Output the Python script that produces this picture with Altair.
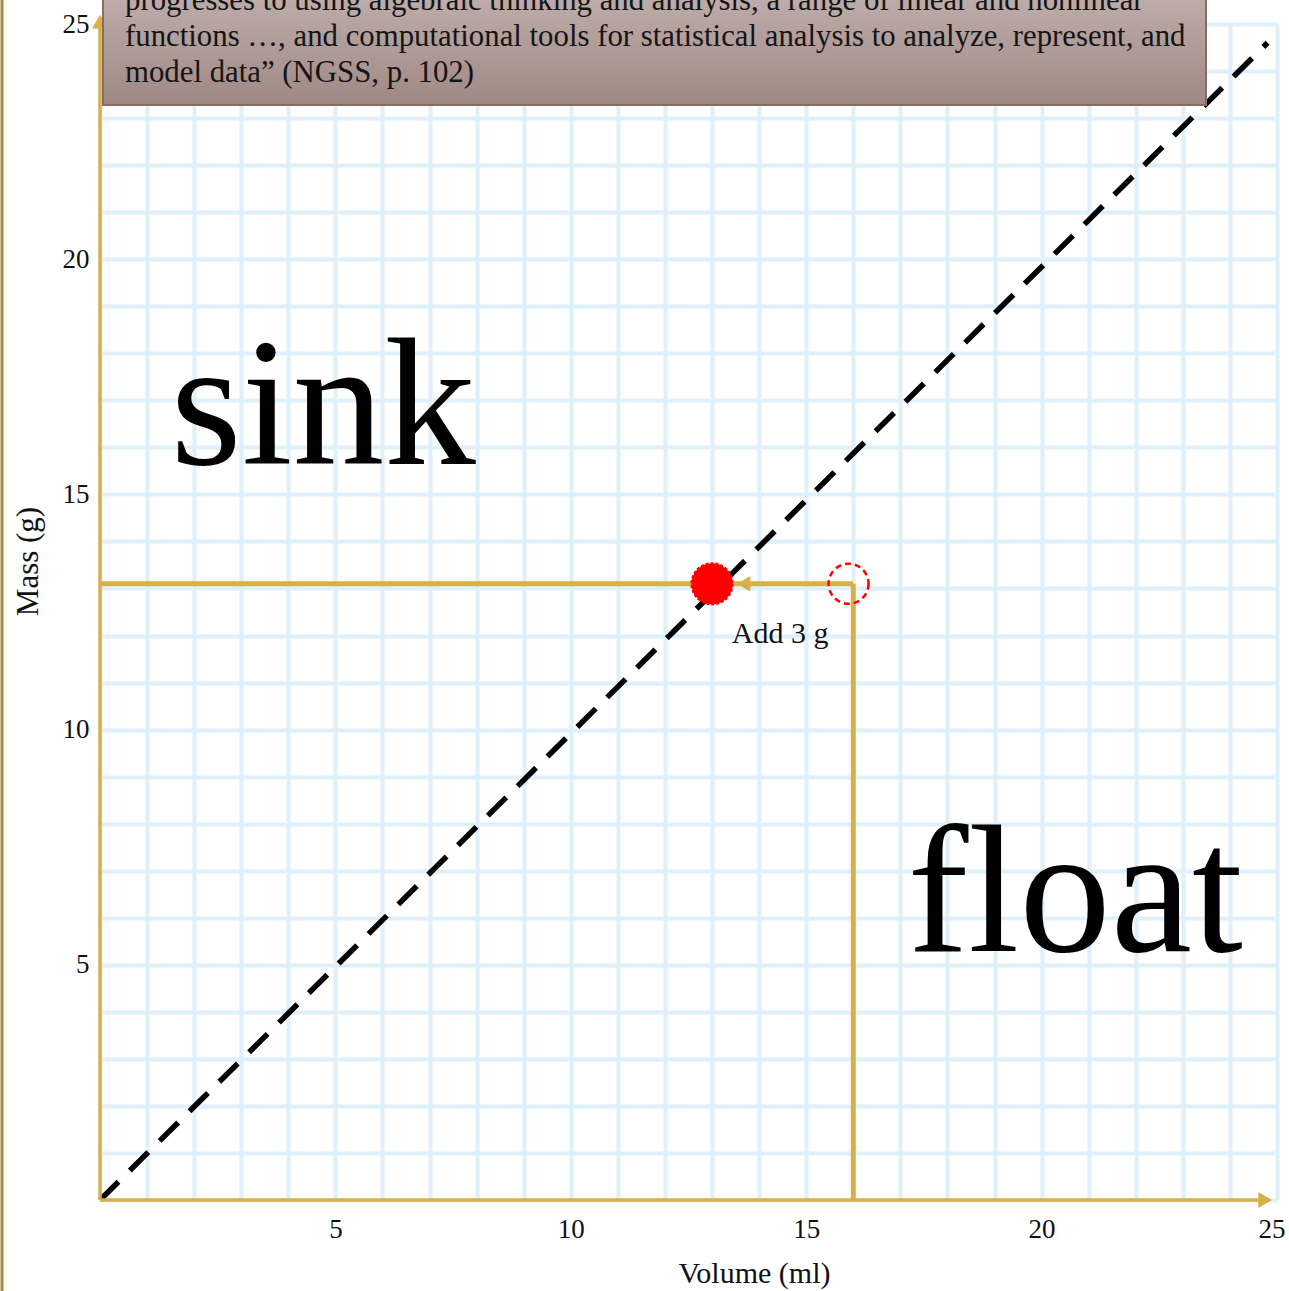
import altair as alt
import pandas as pd

# Grid / axis ticks (whole units); labels are shown at multiples of 5
grid_values = list(range(0, 26))

# Density boundary (dashed line): volume vs mass
boundary_volume = [0.0, 24.8]
boundary_mass = [0.0, 24.6]

# Object before and after adding mass
before_volume = [15.9]
before_mass = [13.1]
after_volume = [13.0]
after_mass = [13.1]

# Guide path: up from the volume axis, then left to the mass axis
guide_vertical_volume = [16.0, 16.0]
guide_vertical_mass = [0.0, 13.1]
guide_horizontal_volume = [0.0, 16.0]
guide_horizontal_mass = [13.1, 13.1]
guide_arrow_volume = [13.67]
guide_arrow_mass = [13.1]

# Region labels
region_labels = ["sink", "float"]
region_volume = [1.5, 17.15]
region_mass = [15.65, 5.3]

note_text = ["Add 3 g"]
note_volume = [13.42]
note_mass = [11.84]

quote_lines = [
    "progresses to using algebraic thinking and analysis, a range of linear and nonlinear",
    "functions \u2026, and computational tools for statistical analysis to analyze, represent, and",
    "model data\u201d (NGSS, p. 102)",
]

GOLD = "#d8b04a"
FONT = "Liberation Serif"
W, H = 1177, 1176

xs = alt.Scale(domain=[0, 25], nice=False, zero=False)
ys = alt.Scale(domain=[0, 25], nice=False, zero=False)

label_expr = "datum.value % 5 == 0 && datum.value > 0 ? datum.label : ''"

x_axis = alt.Axis(
    values=grid_values, labelExpr=label_expr, grid=True, gridColor="#ddf0fc",
    gridWidth=4, ticks=False, domain=False, labelFont=FONT, labelFontSize=27,
    labelColor="#111", labelPadding=16, labelFlush=True, labelFlushOffset=8,
    title="Volume (ml)", titleFont=FONT, titleFontSize=30, titleFontWeight="normal",
    titleColor="#111", titleX=654, titleY=82, titleBaseline="alphabetic",
)
y_axis = alt.Axis(
    values=grid_values, labelExpr=label_expr, grid=True, gridColor="#ddf0fc",
    gridWidth=4, ticks=False, domain=False, labelFont=FONT, labelFontSize=27,
    labelColor="#111", labelPadding=11, labelFlush=False,
    title="Mass (g)", titleFont=FONT, titleFontSize=31, titleFontWeight="normal",
    titleColor="#111", titleX=-63, titleY=537, titleAngle=-90,
    titleBaseline="alphabetic", titleAlign="center",
)


def line_df(vx, vy):
    return pd.DataFrame({"v": vx, "m": vy, "o": list(range(len(vx)))})


def enc(chart, **kw):
    return chart.encode(
        x=alt.X("v:Q", scale=xs, axis=x_axis),
        y=alt.Y("m:Q", scale=ys, axis=y_axis),
        **kw,
    )


# Axis lines with arrowheads
axis_x_line = enc(alt.Chart(line_df([0, 24.75], [0, 0])).mark_line(color=GOLD, strokeWidth=3.5), order="o:O")
axis_y_line = enc(alt.Chart(line_df([0, 0], [0, 25.0])).mark_line(color=GOLD, strokeWidth=3.5), order="o:O")
arrow_x = enc(alt.Chart(line_df([24.75], [0.0])).mark_point(
    shape="triangle-right", filled=True, color=GOLD, opacity=1, size=256))
arrow_y = enc(alt.Chart(line_df([0.0], [25.05])).mark_point(
    shape="triangle-up", filled=True, color=GOLD, opacity=1, size=256))

boundary = enc(alt.Chart(line_df(boundary_volume, boundary_mass)).mark_line(
    color="black", strokeWidth=5.5, strokeDash=[26, 16]), order="o:O")

guide_v = enc(alt.Chart(line_df(guide_vertical_volume, guide_vertical_mass)).mark_line(
    color=GOLD, strokeWidth=5), order="o:O")
guide_h = enc(alt.Chart(line_df(guide_horizontal_volume, guide_horizontal_mass)).mark_line(
    color=GOLD, strokeWidth=5), order="o:O")
guide_arrow = enc(alt.Chart(line_df(guide_arrow_volume, guide_arrow_mass)).mark_point(
    shape="triangle-left", filled=True, color=GOLD, opacity=1, size=240))

before_pt = enc(alt.Chart(line_df(before_volume, before_mass)).mark_point(
    shape="circle", filled=False, color="#ff0000", stroke="#ff0000", strokeWidth=2.5,
    strokeDash=[6, 4], opacity=1, size=1600))
after_pt = enc(alt.Chart(line_df(after_volume, after_mass)).mark_point(
    shape="circle", filled=True, fill="#ff0000", stroke="#ff0000", strokeWidth=2,
    strokeDash=[3, 2], opacity=1, size=1700))

regions = enc(alt.Chart(pd.DataFrame({"v": region_volume, "m": region_mass, "t": region_labels})).mark_text(
    font=FONT, fontSize=183, color="#000", align="left", baseline="alphabetic"), text="t:N")

note = enc(alt.Chart(pd.DataFrame({"v": note_volume, "m": note_mass, "t": note_text})).mark_text(
    font=FONT, fontSize=30, color="#111", align="left", baseline="alphabetic"), text="t:N")

# Quote box at the top with a vertical gradient fill
box = alt.Chart(pd.DataFrame({"k": [0]})).mark_rect(
    color=alt.Gradient(
        gradient="linear",
        stops=[alt.GradientStop(color="#c7b8b6", offset=0),
               alt.GradientStop(color="#9f8884", offset=1)],
        x1=0, x2=0, y1=0, y2=1,
    ),
    stroke="#8a6b63", strokeWidth=2,
).encode(x=alt.value(3), x2=alt.value(1106), y=alt.value(-60), y2=alt.value(81))

quote = alt.Chart(pd.DataFrame({"t": ["\n".join(quote_lines)]})).mark_text(
    font=FONT, fontSize=30.8, color="#151515", align="left", baseline="alphabetic",
    lineBreak="\n", lineHeight=36,
).encode(x=alt.value(25), y=alt.value(-14), text="t:N")

# Thin frame line along the left edge of the figure
edge = alt.Chart(pd.DataFrame({"k": [0]})).mark_rule(color="#a88b36", strokeWidth=3).encode(
    x=alt.value(-98), y=alt.value(-30), y2=alt.value(H + 100))

chart = alt.layer(
    edge, boundary, guide_v, guide_h, guide_arrow,
    axis_x_line, axis_y_line, arrow_x, arrow_y,
    after_pt, before_pt, regions, note, box, quote,
).properties(
    width=W, height=H,
    autosize=alt.AutoSizeParams(type="none"),
    padding={"left": 100, "top": 24, "right": 12, "bottom": 91},
    background="white",
).configure_view(stroke=None)

chart.save("out.html", embed_options={"renderer": "svg", "actions": False})
